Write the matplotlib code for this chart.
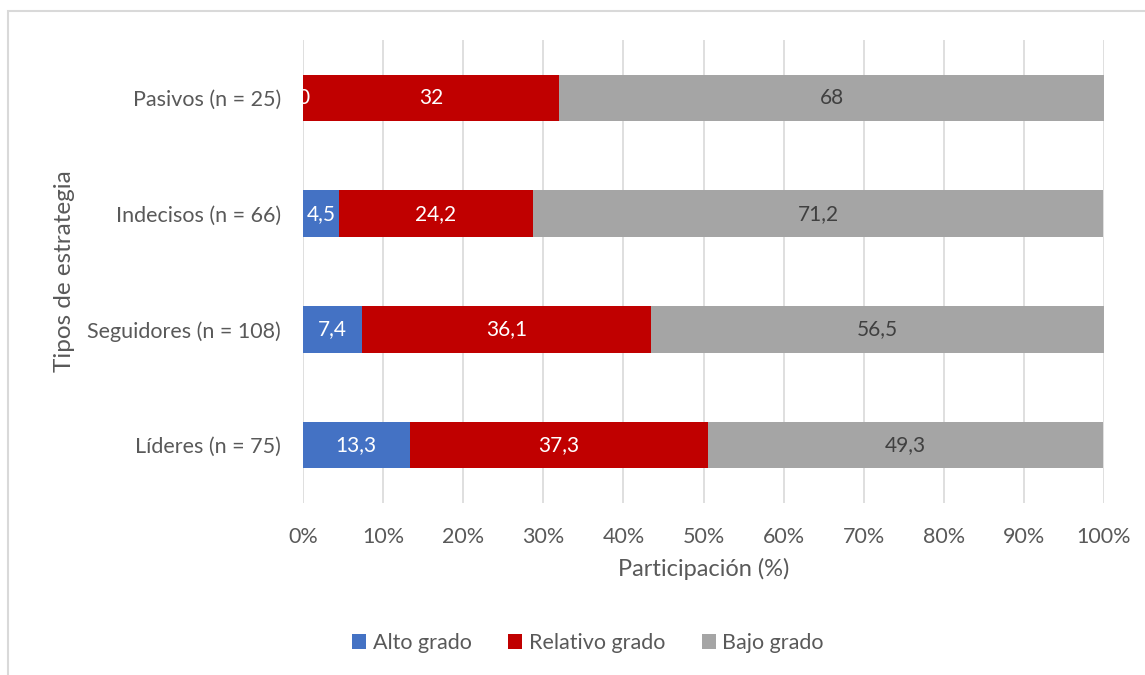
import matplotlib
matplotlib.use("Agg")
import matplotlib.pyplot as plt
from matplotlib.patches import Rectangle
import numpy as np

plt.rcParams['font.family'] = ['Lato', 'DejaVu Sans']

categorias = ["Líderes (n = 75)", "Seguidores (n = 108)", "Indecisos (n = 66)", "Pasivos (n = 25)"]
alto = [13.3, 7.4, 4.5, 0]
relativo = [37.3, 36.1, 24.2, 32]
bajo = [49.3, 56.5, 71.2, 68]
series = ["Alto grado", "Relativo grado", "Bajo grado"]
colores = ["#4472C4", "#C00000", "#A5A5A5"]
color_texto = ["white", "white", "#404040"]

W, H = 1145, 675
fig = plt.figure(figsize=(W / 100, H / 100), dpi=100)
ax = fig.add_axes([303 / W, 1 - 503 / H, (1104 - 303) / W, (503 - 40) / H])

# marco gris de la figura
fig.patches.append(Rectangle((8 / W, -0.1), 1.2, (H - 11) / H + 0.1, transform=fig.transFigure,
                             fill=False, edgecolor="#D9D9D9", lw=1.5, zorder=0))

y = np.arange(len(categorias))
izq = np.zeros(len(categorias))
for nombre, vals, col, tc in zip(series, [alto, relativo, bajo], colores, color_texto):
    vals = np.array(vals)
    ax.barh(y, vals, left=izq, height=0.4, color=col, label=nombre, zorder=2)
    for i in range(len(y)):
        etiqueta = format(vals[i], 'g').replace('.', ',')
        ax.text(izq[i] + vals[i] / 2, y[i], etiqueta, ha="center", va="center",
                color=tc, fontsize=15, zorder=3)
    izq = izq + vals

ax.set_xlim(0, 100)
ax.set_ylim(-0.5, 3.5)
ax.set_xticks(np.arange(0, 101, 10))
ax.set_xticklabels([f"{t}%" for t in range(0, 101, 10)])
ax.set_yticks(y)
ax.set_yticklabels(categorias)
ax.tick_params(length=0, labelsize=15.5, labelcolor="#595959")
ax.tick_params(axis="x", pad=17)
ax.tick_params(axis="y", pad=16)
ax.grid(axis="x", color="#D9D9D9", lw=1.2, zorder=0)
ax.set_axisbelow(True)
for s in ax.spines.values():
    s.set_visible(False)

ax.set_xlabel("Participación (%)", fontsize=17, color="#595959", labelpad=8)
ax.set_ylabel("Tipos de estrategia", fontsize=17.5, color="#595959", labelpad=9)

fig.legend(loc="center", bbox_to_anchor=(588 / W, 1 - 643 / H), ncol=3, frameon=False,
           fontsize=15.5, labelcolor="#595959", handlelength=0.65, handleheight=0.65,
           handletextpad=0.3, columnspacing=1.7)

fig.savefig("out.png", dpi=100)
